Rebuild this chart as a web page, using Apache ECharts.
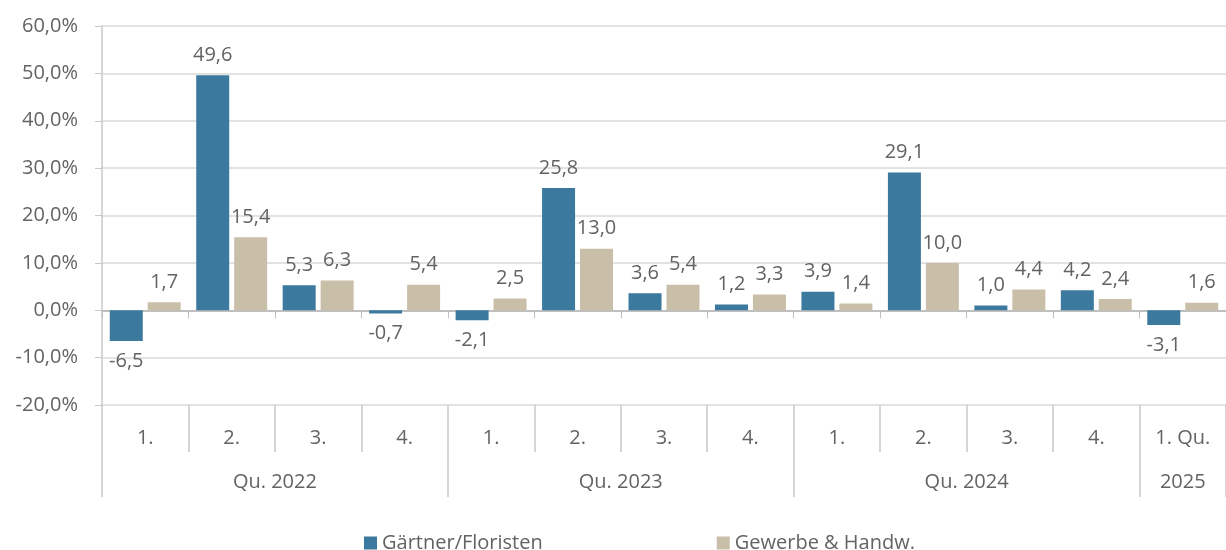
<!DOCTYPE html>
<html>
<head>
<meta charset="utf-8">
<script src="https://cdn.jsdelivr.net/npm/echarts@6/dist/echarts.min.js"></script>
<style>
  html, body { margin: 0; padding: 0; background: #fff; }
  #main { width: 1226px; height: 550px; }
</style>
</head>
<body>
<div id="main"></div>
<script>
// Quartale (erste Ebene) und Jahresgruppen (zweite Ebene)
const quarters = ["1.", "2.", "3.", "4.", "1.", "2.", "3.", "4.", "1.", "2.", "3.", "4.", "1. Qu."];
const groupLabels = ["Qu. 2022", "Qu. 2023", "Qu. 2024", "2025"];
const groupBounds = [0, 4, 8, 12, 13];
const groupCenters = [2, 6, 10, 12.5];

const seriesNames = ["Gärtner/Floristen", "Gewerbe & Handw."];
const gaertner = [-6.5, 49.6, 5.3, -0.7, -2.1, 25.8, 3.6, 1.2, 3.9, 29.1, 1.0, 4.2, -3.1];
const gewerbe = [1.7, 15.4, 6.3, 5.4, 2.5, 13.0, 5.4, 3.3, 1.4, 10.0, 4.4, 2.4, 1.6];

const textColor = "#636363";
const fontFamily = "'Open Sans', sans-serif";
const fontSize = 20;

function fmt(v) {
  return v.toFixed(1).replace(".", ",");
}

// negative Werte bekommen ihr Label unter dem Balken
function barData(arr) {
  return arr.map(function (v) {
    return {
      value: v,
      label: { position: v < 0 ? "bottom" : "top" }
    };
  });
}

let myChart = echarts.init(document.getElementById("main"));

myChart.setOption({
  animation: false,
  textStyle: { fontFamily: fontFamily, color: textColor },
  legend: {
    top: 528,
    left: 359,
    itemWidth: 13,
    itemHeight: 13,
    itemGap: 174,
    icon: "rect",
    textStyle: { fontSize: fontSize, color: textColor, fontFamily: fontFamily },
    data: seriesNames
  },
  grid: {
    left: 102,
    right: 0,
    top: 26,
    bottom: 145,
    containLabel: false
  },
  xAxis: [
    {
      // Balkenachse, Linie auf 0
      type: "category",
      data: quarters,
      axisLine: { onZero: true, lineStyle: { color: "#bfbfbf", width: 2 } },
      axisTick: { show: true, length: 8, lineStyle: { color: "#bfbfbf" } },
      axisLabel: { show: false }
    },
    {
      // Quartalsbeschriftung unten
      type: "category",
      data: quarters,
      position: "bottom",
      axisLine: { show: false, onZero: false },
      axisTick: { show: true, length: 47, lineStyle: { color: "#c8c8c8", width: 1.5 } },
      axisLabel: { margin: 23, fontSize: fontSize, color: textColor, fontFamily: fontFamily },
      splitLine: { show: false }
    },
    {
      // Jahresgruppen
      type: "value",
      min: 0,
      max: 13,
      position: "bottom",
      axisLine: { show: false, onZero: false },
      axisTick: {
        show: true,
        length: 92,
        customValues: groupBounds,
        lineStyle: { color: "#c8c8c8", width: 1.5 }
      },
      axisLabel: {
        margin: 67,
        fontSize: fontSize,
        color: textColor,
        fontFamily: fontFamily,
        customValues: groupCenters,
        formatter: function (v) {
          return groupLabels[groupCenters.indexOf(v)];
        }
      },
      splitLine: { show: false }
    }
  ],
  yAxis: {
    type: "value",
    min: -20,
    max: 60,
    interval: 10,
    axisLine: { show: true, lineStyle: { color: "#c8c8c8", width: 1.5 } },
    axisTick: { show: true, length: 7, lineStyle: { color: "#c8c8c8" } },
    axisLabel: {
      margin: 24,
      fontSize: fontSize,
      color: textColor,
      fontFamily: fontFamily,
      formatter: function (v) {
        return fmt(v) + "%";
      }
    },
    splitLine: { show: true, lineStyle: { color: "#d9d9d9", width: 1.5 } }
  },
  series: [
    {
      name: seriesNames[0],
      type: "bar",
      xAxisIndex: 0,
      data: barData(gaertner),
      barWidth: 33,
      barGap: "15%",
      itemStyle: { color: "#3b7a9e" },
      label: {
        show: true,
        distance: 10,
        fontSize: fontSize,
        color: textColor,
        fontFamily: fontFamily,
        formatter: function (p) { return fmt(p.value); }
      }
    },
    {
      name: seriesNames[1],
      type: "bar",
      xAxisIndex: 0,
      data: barData(gewerbe),
      barWidth: 33,
      itemStyle: { color: "#c9bfa8" },
      label: {
        show: true,
        distance: 10,
        fontSize: fontSize,
        color: textColor,
        fontFamily: fontFamily,
        formatter: function (p) { return fmt(p.value); }
      }
    }
  ]
});
</script>
</body>
</html>
